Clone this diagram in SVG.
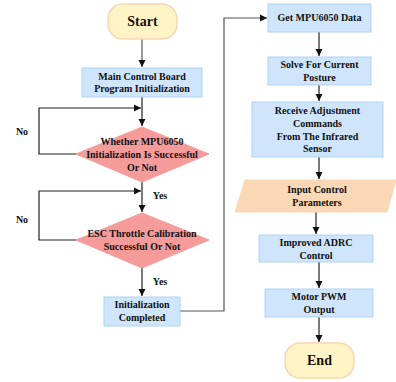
<svg xmlns="http://www.w3.org/2000/svg" width="396" height="382" viewBox="0 0 396 382">
<style>
text{font-family:'Liberation Serif','Times New Roman','DejaVu Serif',serif;font-weight:bold;font-size:10px;fill:#111;text-anchor:middle}
.big{font-size:14px}
.box{fill:#cfe5fb;stroke:#b0d3f3;stroke-width:1}
.dia{fill:#f59c9b;stroke:#f59c9b;stroke-width:1}
.term{fill:#fff4c6;stroke:#f9d6b3;stroke-width:1.5}
.io{fill:#fbd8b5;stroke:#fbd8b5;stroke-width:1}
.c{fill:none;stroke:#222;stroke-width:1.2}
.g{fill:none;stroke:#555;stroke-width:1.2}
</style>
<defs>
<marker id="ah" markerWidth="8" markerHeight="8" refX="7" refY="4" orient="auto" markerUnits="userSpaceOnUse">
<path d="M0,0.5 L7,4 L0,7.5 Z" fill="#111"/>
</marker>
</defs>
<rect width="396" height="382" fill="#fff"/>
<g id="connectors">
<path class="g" d="M142,39 V67" marker-end="url(#ah)"/>
<path class="c" d="M142,97 V126" marker-end="url(#ah)"/>
<path class="c" d="M76,154 H39 V108 H141" marker-end="url(#ah)"/>
<path class="c" d="M142,182 V212" marker-end="url(#ah)"/>
<path class="c" d="M76,240 H39 V191 H141" marker-end="url(#ah)"/>
<path class="c" d="M142,268 V296" marker-end="url(#ah)"/>
<path class="g" d="M180,311 H224 V18 H267" marker-end="url(#ah)"/>
<path class="c" d="M319,32 V56" marker-end="url(#ah)"/>
<path class="c" d="M319,85 V101" marker-end="url(#ah)"/>
<path class="c" d="M319,157 V179" marker-end="url(#ah)"/>
<path class="c" d="M316,212 V234" marker-end="url(#ah)"/>
<path class="c" d="M319,262 V288" marker-end="url(#ah)"/>
<path class="c" d="M319,317 V342" marker-end="url(#ah)"/>
<text x="22" y="135">No</text>
<text x="22" y="223">No</text>
<text x="160" y="199">Yes</text>
<text x="160" y="285">Yes</text>
</g>
<g id="start">
<rect class="term" x="108" y="4" width="69" height="35" rx="15"/>
<text class="big" x="142.5" y="26">Start</text>
</g>
<g id="init">
<rect class="box" x="82" y="68" width="120" height="29"/>
<text x="142" y="80">Main Control Board</text>
<text x="142" y="92">Program Initialization</text>
</g>
<g id="check-mpu">
<polygon class="dia" points="142,127 209,154 142,182 76,154"/>
<text x="142" y="145">Whether MPU6050</text>
<text x="142" y="158">Initialization Is Successful</text>
<text x="142" y="171">Or Not</text>
</g>
<g id="check-esc">
<polygon class="dia" points="142,213 209,240 142,268 76,240"/>
<text x="142" y="237">ESC Throttle Calibration</text>
<text x="142" y="250">Successful Or Not</text>
</g>
<g id="init-done">
<rect class="box" x="104" y="297" width="76" height="29"/>
<text x="142" y="308">Initialization</text>
<text x="142" y="321">Completed</text>
</g>
<g id="get-data">
<rect class="box" x="268" y="4" width="103" height="28"/>
<text x="319.5" y="21">Get MPU6050 Data</text>
</g>
<g id="solve">
<rect class="box" x="268" y="57" width="103" height="28"/>
<text x="319.5" y="68">Solve For Current</text>
<text x="319.5" y="81">Posture</text>
</g>
<g id="receive">
<rect class="box" x="252" y="102" width="131" height="55"/>
<text x="317.5" y="114">Receive Adjustment</text>
<text x="317.5" y="127">Commands</text>
<text x="317.5" y="140">From The Infrared</text>
<text x="317.5" y="152">Sensor</text>
</g>
<g id="input">
<polygon class="io" points="245,180 396,180 387,212 235,212"/>
<text x="317" y="193">Input Control</text>
<text x="317" y="206">Parameters</text>
</g>
<g id="adrc">
<rect class="box" x="259" y="235" width="114" height="27"/>
<text x="316" y="246">Improved ADRC</text>
<text x="316" y="259">Control</text>
</g>
<g id="pwm">
<rect class="box" x="265" y="289" width="108" height="28"/>
<text x="319" y="300">Motor PWM</text>
<text x="319" y="313">Output</text>
</g>
<g id="end">
<rect class="term" x="285" y="343" width="69" height="35" rx="15"/>
<text class="big" x="319.5" y="365">End</text>
</g>
</svg>
